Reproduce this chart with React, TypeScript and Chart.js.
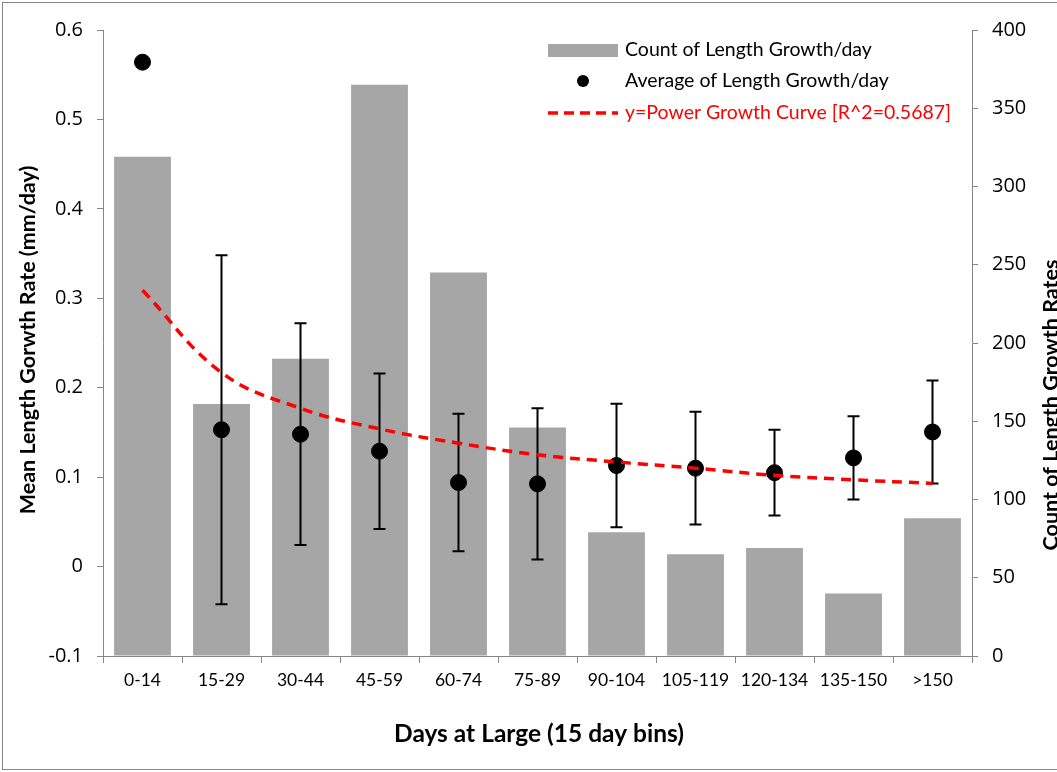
import { useEffect, useRef } from 'react';
import { Chart, registerables } from 'chart.js';

Chart.register(...registerables);

const categories = ['0-14', '15-29', '30-44', '45-59', '60-74', '75-89', '90-104', '105-119', '120-134', '135-150', '>150'];
const countValues = [319, 161, 190, 365, 245, 146, 79, 65, 69, 40, 88];
const meanValues = [0.564, 0.153, 0.148, 0.129, 0.094, 0.0925, 0.113, 0.11, 0.105, 0.1215, 0.1505];
const errorValues: (number | null)[] = [null, 0.195, 0.124, 0.087, 0.077, 0.0845, 0.069, 0.063, 0.048, 0.0465, 0.0575];
const curveValues = [0.309, 0.217, 0.177, 0.154, 0.138, 0.125, 0.117, 0.11, 0.102, 0.097, 0.093];

const leftMin = -0.1;
const leftMax = 0.6;
const leftStep = 0.1;
const rightMin = 0;
const rightMax = 400;
const rightStep = 50;

const legendLabels = ['Count of Length Growth/day', 'Average of Length Growth/day', 'y=Power Growth Curve [R^2=0.5687]'];
const leftTitle = 'Mean Length Gorwth Rate (mm/day)';
const rightTitle = 'Count of Length Growth Rates';
const xTitle = 'Days at Large (15 day bins)';

const W = 1100;
const H = 772;
const AXIS = '#868686';
const BAR = '#a6a6a6';
const RED = '#ff0000';

export default function App() {
  const ref = useRef<HTMLCanvasElement>(null);

  useEffect(() => {
    document.body.style.margin = '0';
    const custom = {
      id: 'custom',
      afterDatasetDraw(chart: any, args: any) {
        if (args.index !== 0) return;
        const ctx = chart.ctx;
        const xs = chart.scales.x;
        const ys = chart.scales.y;
        ctx.save();
        ctx.strokeStyle = '#000';
        ctx.lineWidth = 2;
        for (let i = 0; i < meanValues.length; i++) {
          const e = errorValues[i];
          if (e == null) continue;
          const x = xs.getPixelForValue(i);
          const yt = ys.getPixelForValue(meanValues[i] + e);
          const yb = ys.getPixelForValue(meanValues[i] - e);
          ctx.beginPath();
          ctx.moveTo(x, yt);
          ctx.lineTo(x, yb);
          ctx.moveTo(x - 6, yt);
          ctx.lineTo(x + 6, yt);
          ctx.moveTo(x - 6, yb);
          ctx.lineTo(x + 6, yb);
          ctx.stroke();
        }
        ctx.restore();
      },
      afterDraw(chart: any) {
        const ctx = chart.ctx;
        ctx.save();
        ctx.fillStyle = '#000';
        ctx.textAlign = 'center';
        ctx.textBaseline = 'middle';
        ctx.font = 'bold 21.5px Lato';
        ctx.save();
        ctx.translate(28, 340);
        ctx.rotate(-Math.PI / 2);
        ctx.fillText(leftTitle, 0, 0);
        ctx.restore();
        ctx.save();
        ctx.translate(1051, 405);
        ctx.rotate(-Math.PI / 2);
        ctx.fillText(rightTitle, 0, 0);
        ctx.restore();
        ctx.font = 'bold 24.5px Lato';
        ctx.fillText(xTitle, 539, 734);

        // legend
        ctx.textAlign = 'left';
        ctx.font = '19.5px Lato';
        ctx.fillStyle = BAR;
        ctx.fillRect(548, 44, 70, 13);
        ctx.fillStyle = '#000';
        ctx.fillText(legendLabels[0], 625, 50);
        ctx.beginPath();
        ctx.arc(583, 81, 6, 0, Math.PI * 2);
        ctx.fill();
        ctx.fillText(legendLabels[1], 625, 81);
        ctx.strokeStyle = RED;
        ctx.lineWidth = 3.5;
        ctx.setLineDash([10, 6]);
        ctx.beginPath();
        ctx.moveTo(548, 113);
        ctx.lineTo(618, 113);
        ctx.stroke();
        ctx.setLineDash([]);
        ctx.fillStyle = RED;
        ctx.fillText(legendLabels[2], 625, 113);

        // border
        ctx.strokeStyle = AXIS;
        ctx.lineWidth = 1;
        ctx.strokeRect(2.5, 2.5, W, H - 5);
        ctx.restore();
      },
    };

    const fmt = (v: any) => {
      const r = Math.round(Number(v) * 10) / 10;
      return r === 0 ? '0' : String(r);
    };

    const chart = new Chart(ref.current!, {
      type: 'bar',
      data: {
        labels: categories,
        datasets: [
          {
            type: 'bar',
            label: legendLabels[0],
            data: countValues,
            yAxisID: 'y1',
            backgroundColor: BAR,
            barPercentage: 0.72,
            categoryPercentage: 1,
            order: 3,
          },
          {
            type: 'line',
            label: legendLabels[1],
            data: meanValues,
            yAxisID: 'y',
            showLine: false,
            pointRadius: 8,
            pointBackgroundColor: '#000',
            pointBorderColor: '#000',
            order: 2,
          },
          {
            type: 'line',
            label: legendLabels[2],
            data: curveValues,
            yAxisID: 'y',
            borderColor: RED,
            borderWidth: 3.5,
            borderDash: [10, 7],
            pointRadius: 0,
            tension: 0.4,
            fill: false,
            order: 1,
          },
        ] as any,
      },
      options: {
        responsive: false,
        animation: false,
        layout: { padding: { top: 30, left: 0, right: 0, bottom: 0 } },
        plugins: { legend: { display: false }, tooltip: { enabled: false } },
        scales: {
          x: {
            type: 'category',
            offset: true,
            grid: { display: true, drawOnChartArea: false, drawTicks: true, tickLength: 7, color: AXIS, offset: true },
            border: { display: true, color: AXIS, width: 1 },
            ticks: { color: '#000', font: { family: 'Lato', size: 17.5 }, padding: 7, maxRotation: 0, autoSkip: false },
            afterFit: (s: any) => { s.height = 116; },
          },
          y: {
            position: 'left',
            min: leftMin,
            max: leftMax,
            grid: { display: true, drawOnChartArea: false, drawTicks: true, tickLength: 6, color: AXIS },
            border: { display: true, color: AXIS, width: 1 },
            ticks: { stepSize: leftStep, color: '#000', font: { family: 'Open Sans', size: 20 }, padding: 14, callback: fmt },
            afterFit: (s: any) => { s.width = 103; },
          },
          y1: {
            position: 'right',
            min: rightMin,
            max: rightMax,
            grid: { display: true, drawOnChartArea: false, drawTicks: true, tickLength: 6, color: AXIS },
            border: { display: true, color: AXIS, width: 1 },
            ticks: { stepSize: rightStep, color: '#000', font: { family: 'Open Sans', size: 20 }, padding: 14 },
            afterFit: (s: any) => { s.width = W - 972; },
          },
        },
      } as any,
      plugins: [custom],
    });
    return () => chart.destroy();
  }, []);

  return (
    <div style={{ width: 1057, height: 772, overflow: 'hidden' }}>
      <canvas ref={ref} width={W} height={H} style={{ display: 'block', width: W, height: H }} />
    </div>
  );
}
